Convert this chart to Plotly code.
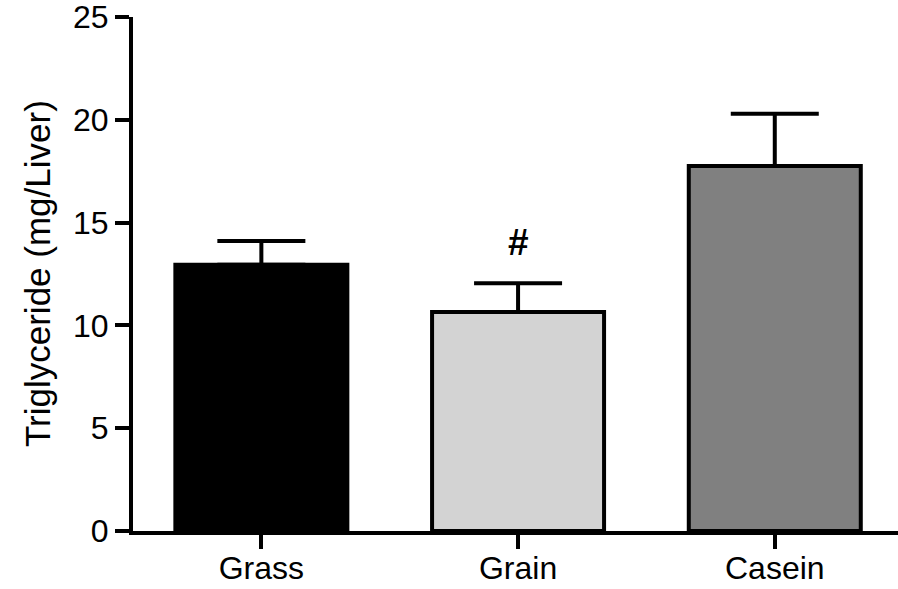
import plotly.graph_objects as go

categories = ["Grass", "Grain", "Casein"]
means = [12.95, 10.65, 17.75]
errors = [1.15, 1.4, 2.55]
fill_colors = ["#000000", "#d3d3d3", "#808080"]
marks = ["", "#", ""]
y_ticks = [0, 5, 10, 15, 20, 25]
y_title = "Triglyceride (mg/Liver)"

FONT = "Liberation Sans, Arial, sans-serif"

fig = go.Figure()
fig.add_trace(go.Bar(
    x=categories, y=means, width=0.67,
    marker=dict(color=fill_colors, line=dict(color="black", width=4)),
    error_y=dict(type="data", array=errors, arrayminus=[0] * len(errors),
                 symmetric=False, color="black", thickness=4, width=44),
    hoverinfo="skip",
))

for c, m, e, t in zip(categories, means, errors, marks):
    if t:
        fig.add_annotation(x=c, y=m + e, text="<b>" + t + "</b>", showarrow=False,
                           yshift=41, font=dict(family=FONT, size=37, color="black"))

fig.add_annotation(xref="paper", yref="paper", x=0, y=0.5, xshift=-96,
                   text=y_title, textangle=-90, showarrow=False,
                   xanchor="center", yanchor="middle",
                   font=dict(family=FONT, size=35, color="black"))

fig.update_layout(
    template="none",
    width=898, height=589,
    margin=dict(l=133, r=0, t=17, b=58, autoexpand=False),
    plot_bgcolor="white", paper_bgcolor="white",
    showlegend=False,
    font=dict(family=FONT, color="black"),
)
fig.update_xaxes(
    range=[-0.5, 2.48], showline=True, linewidth=4, linecolor="black",
    ticks="outside", ticklen=14, tickwidth=4, tickcolor="black",
    tickfont=dict(size=32), showgrid=False, zeroline=False, automargin=False,
    ticklabeloverflow="allow", ticklabelstandoff=-8,
)
fig.update_yaxes(
    range=[0, 25], tickvals=y_ticks, showline=True, linewidth=4, linecolor="black",
    ticks="outside", ticklen=14, tickwidth=4, tickcolor="black",
    tickfont=dict(size=32), showgrid=False, zeroline=False, automargin=False,
    ticklabeloverflow="allow",
)

fig.write_html("out.html", config={"displayModeBar": False},
               post_script="document.body.style.margin='0';")
